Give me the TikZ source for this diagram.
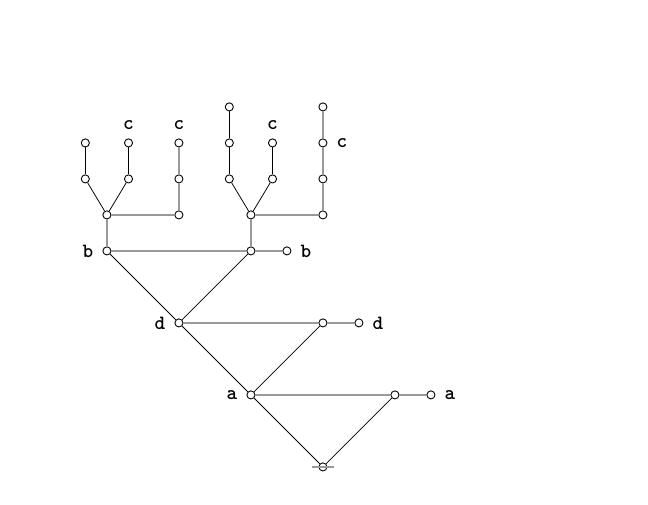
\documentclass[tikz,border=0pt]{standalone}
\usepackage{fontspec}
\usetikzlibrary{positioning}

\tikzset{
  dot/.style = {circle, draw, fill=white, line width=0.35pt, inner sep=0pt, minimum size=3.2pt},
  lbl/.style = {font=\ttfamily\bfseries\fontsize{8}{9}\selectfont, inner sep=0pt},
  stem/.style = {draw=black!40, line width=0.8pt},
  twig/.style = {draw=black, line width=0.3pt}
}

\begin{document}
\begin{tikzpicture}[x=0.5cm, y=0.5cm, on grid, node distance=1cm,
                    label distance=3.4pt]
  \useasboundingbox (0,0) rectangle (18,14);
  % lower part
  \node[dot] (r) at (8.97,1.03) {};
  \node[dot, label={[lbl]left:a}] (a) [above left=1cm and 1cm of r] {};
  \node[dot] (a2) [above right=1cm and 1cm of r] {};
  \node[dot, label={[lbl]right:a}] (a3) [right=0.5cm of a2] {};
  \node[dot, label={[lbl]left:d}] (d) [above left=1cm and 1cm of a] {};
  \node[dot] (d2) [above right=1cm and 1cm of a] {};
  \node[dot, label={[lbl]right:d}] (d3) [right=0.5cm of d2] {};
  \node[dot, label={[lbl]left:b}] (b) [above left=1cm and 1cm of d] {};
  \node[dot] (e) [above right=1cm and 1cm of d] {};
  \node[dot, label={[lbl]right:b}] (e2) [right=0.5cm of e] {};
  % left tree
  \node[dot] (f) [above=0.5cm of b] {};
  \node[dot] (f1) [above left=0.5cm and 0.3cm of f] {};
  \node[dot] (f2) [above right=0.5cm and 0.3cm of f] {};
  \node[dot] (f3) [right=1cm of f] {};
  \node[dot] (f1t) [above=0.5cm of f1] {};
  \node[dot, label={[lbl]above:c}] (f2t) [above=0.5cm of f2] {};
  \node[dot] (f3m) [above=0.5cm of f3] {};
  \node[dot, label={[lbl]above:c}] (f3t) [above=0.5cm of f3m] {};
  % right tree
  \node[dot] (g) [above=0.5cm of e] {};
  \node[dot] (g1) [above left=0.5cm and 0.3cm of g] {};
  \node[dot] (g2) [above right=0.5cm and 0.3cm of g] {};
  \node[dot] (g3) [right=1cm of g] {};
  \node[dot] (g1m) [above=0.5cm of g1] {};
  \node[dot] (g1t) [above=0.5cm of g1m] {};
  \node[dot, label={[lbl]above:c}] (g2t) [above=0.5cm of g2] {};
  \node[dot] (g3a) [above=0.5cm of g3] {};
  \node[dot, label={[lbl]right:c}] (g3b) [above=0.5cm of g3a] {};
  \node[dot] (g3c) [above=0.5cm of g3b] {};

  \path[stem]
    (a) edge (a2) (a2) edge (a3)
    (d) edge (d2) (d2) edge (d3)
    (b) edge (e) (e) edge (e2)
    (b) edge (f) (f) edge (f3) (f3) edge (f3m) (f3m) edge (f3t)
    (e) edge (g) (g) edge (g3) (g3) edge (g3a) (g3a) edge (g3b) (g3b) edge (g3c);
  \path[twig]
    (r) edge (a) (r) edge (a2)
    (a) edge (d) (a) edge (d2)
    (d) edge (b) (d) edge (e)
    (f) edge (f1) (f) edge (f2) (f1) edge (f1t) (f2) edge (f2t)
    (g) edge (g1) (g) edge (g2) (g1) edge (g1m) (g1m) edge (g1t) (g2) edge (g2t);
  % tick through the root
  \draw[stem] ([xshift=-4.5pt]r.center) -- ([xshift=4.5pt]r.center);
\end{tikzpicture}
\end{document}
